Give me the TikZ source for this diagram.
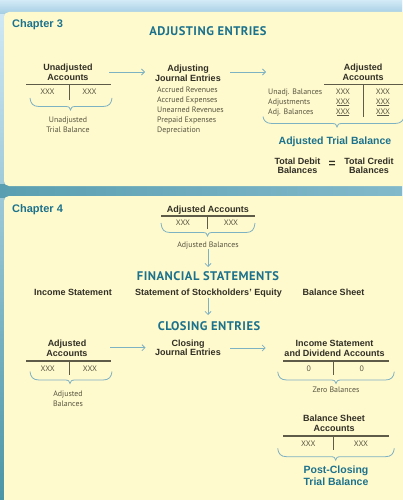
\documentclass[tikz,border=0pt]{standalone}
\usepackage{fontspec}
\setmainfont{PT Sans}
\newfontfamily\labelfont{Liberation Sans}
\newfontfamily\headfont{PT Sans}[LetterSpace=4.0]
\usetikzlibrary{arrows.meta}

\definecolor{hdteal}{HTML}{1B728C}
\definecolor{lbltext}{HTML}{302F24}
\definecolor{bodytext}{HTML}{57563F}
\definecolor{tcol}{HTML}{5E5C48}
\definecolor{flowcol}{HTML}{7DB2C3}
\definecolor{cream}{HTML}{FFF9CE}
\definecolor{skytop}{HTML}{D3EAF7}
\definecolor{skylow}{HTML}{A3CDE2}
\definecolor{deepteal}{HTML}{4A95A6}
\definecolor{bandleft}{HTML}{5A9FB1}
\definecolor{bandright}{HTML}{82B9CA}

% curly brace opening downwards: x-left, x-right, y-top, y-bottom, x-tip
\newcommand\cbrace[5]{%
  \draw[brc] (#1,#3) .. controls ({#1+0.6},{#4-3}) and ({#1+3},#4) .. ({#1+9},#4)
    -- ({#5-5},#4) .. controls ({#5-1.5},#4) and ({#5-0.3},{#4+1}) .. (#5,{#4+3.5})
    .. controls ({#5+0.3},{#4+1}) and ({#5+1.5},#4) .. ({#5+5},#4)
    -- ({#2-9},#4) .. controls ({#2-3},#4) and ({#2-0.6},{#4-3}) .. (#2,#3);}

\tikzset{
  chap/.style={font=\labelfont\bfseries\fontsize{11}{12}\selectfont, text=hdteal, inner sep=0, anchor=north west},
  head/.style={font=\headfont\bfseries\fontsize{12.5}{13}\selectfont, text=hdteal, inner sep=0, anchor=north},
  lbl/.style={font=\labelfont\bfseries\fontsize{9}{9.8}\selectfont, text=lbltext, align=center, inner sep=0, anchor=north},
  small/.style={font=\fontsize{7.9}{10}\selectfont, text=bodytext, inner sep=0, anchor=north},
  tealbig/.style={font=\labelfont\bfseries\fontsize{10.5}{11.7}\selectfont, text=hdteal, align=center, inner sep=0, anchor=north},
  tline/.style={draw=tcol, line width=1.2pt},
  tvert/.style={draw=tcol, line width=0.9pt},
  flow/.style={draw=flowcol, line width=0.8pt, -{Straight Barb[length=3pt,width=6pt]}},
  brc/.style={draw=flowcol, line width=0.8pt},
}

\begin{document}
\begin{tikzpicture}[x=1pt,y=-1pt]
\useasboundingbox (0,0) rectangle (402,500);

% backdrop
\shade[top color=skytop, bottom color=deepteal] (0,0) rectangle (402,500);
\shade[top color=skytop, bottom color=skylow] (0,0) rectangle (402,14);
\shade[left color=bandleft, right color=bandright] (0,184) rectangle (402,197);

% panels
\fill[cream, rounded corners=5pt] (4,12) rectangle (430,186);
\fill[cream, rounded corners=5pt] (4,196) rectangle (430,530);

% ---------- Chapter 3 ----------
\node[chap] (ch3) at (12,19.5) {Chapter 3};
\node[head] (adjhead) at (208,26.5) {ADJUSTING ENTRIES};

% unadjusted accounts
\node[lbl] (ua) at (68,64) {Unadjusted\\Accounts};
\draw[tline] (26,84.3) -- (110.5,84.3);
\draw[tvert] (69,84.3) -- (69,100.5);
\node[small] (ua1) at (47.5,88.5) {XXX};
\node[small] (ua2) at (89.5,88.5) {XXX};
\cbrace{30}{112}{98}{106.5}{70.5}
\node[small, align=center] (utb) at (68,116.7) {Unadjusted\\Trial Balance};

\coordinate (f1s) at (109,72);
\coordinate (f1e) at (145,72);
\draw[flow] (f1s) -- (f1e);

% adjusting journal entries
\node[lbl] (aje) at (188,65) {Adjusting\\Journal Entries};
\node[small, align=left, anchor=north west] (list) at (157,87)
  {Accrued Revenues\\Accrued Expenses\\Unearned Revenues\\Prepaid Expenses\\Depreciation};

\coordinate (f2s) at (230,72);
\coordinate (f2e) at (266,72);
\draw[flow] (f2s) -- (f2e);

% adjusted accounts
\node[lbl] (aa) at (363,64) {Adjusted\\Accounts};
\draw[tline] (324,84.3) -- (404,84.3);
\draw[tvert] (363,84.3) -- (363,117.5);
\node[small, align=left, anchor=north west] (rows) at (268,89.2)
  {Unadj. Balances\\Adjustments\\Adj. Balances};
\node[small] (aa11) at (343,89.2) {XXX};
\node[small] (aa12) at (383,89.2) {XXX};
\node[small] (aa21) at (343,99.2) {XXX};
\node[small] (aa22) at (383,99.2) {XXX};
\node[small] (aa31) at (343,109.2) {XXX};
\node[small] (aa32) at (383,109.2) {XXX};
\draw[tcol, line width=0.6pt] (337,105.3) -- (349,105.3) (377,105.3) -- (389,105.3);
\draw[tcol, line width=1.8pt] (337,115.6) -- (349,115.6) (377,115.6) -- (389,115.6);
\cbrace{263}{404}{116.5}{123.5}{337}

\node[tealbig] (atb) at (335,137) {Adjusted Trial Balance};
\node[lbl] (td) at (297.5,157.3) {Total Debit\\Balances};
\node[lbl, anchor=center, font=\labelfont\bfseries\fontsize{12}{12}\selectfont] (eq) at (332,164) {=};
\node[lbl] (tc) at (369,157.3) {Total Credit\\Balances};

% ---------- Chapter 4 ----------
\node[chap] (ch4) at (12,204) {Chapter 4};

\node[lbl] (adjacc) at (208,206) {Adjusted Accounts};
\draw[tline] (161,216) -- (255,216);
\draw[tvert] (207.5,216) -- (207.5,229);
\node[small] (ac1) at (183,220.2) {XXX};
\node[small] (ac2) at (231,220.2) {XXX};
\cbrace{161}{255}{223}{232.5}{207.5}
\node[small] (adjbal) at (208,241.4) {Adjusted Balances};

\coordinate (d1s) at (208,249);
\coordinate (d1e) at (208,267);
\draw[flow] (d1s) -- (d1e);

\node[head] (finhead) at (208,271.2) {FINANCIAL STATEMENTS};
\node[lbl] (is) at (73,289) {Income Statement};
\node[lbl] (se) at (208.5,289) {Statement of Stockholders’ Equity};
\node[lbl] (bs) at (333.5,289) {Balance Sheet};

\coordinate (d2s) at (208,298);
\coordinate (d2e) at (208,315);
\draw[flow] (d2s) -- (d2e);

\node[head] (closehead) at (209,321.2) {CLOSING ENTRIES};

% adjusted accounts
\node[lbl] (adja2) at (67,340) {Adjusted\\Accounts};
\draw[tline] (26,361) -- (110.5,361);
\draw[tvert] (69,361) -- (69,375);
\node[small] (ab1) at (47.7,365.7) {XXX};
\node[small] (ab2) at (90,365.7) {XXX};
\cbrace{30}{112}{371.5}{380}{70}
\node[small, align=center] (adjb2) at (68,390.4) {Adjusted\\Balances};

\coordinate (f3s) at (110,347.7);
\coordinate (f3e) at (145.5,347.7);
\draw[flow] (f3s) -- (f3e);

\node[lbl] (cje) at (188,339.3) {Closing\\Journal Entries};

\coordinate (f4s) at (230,348);
\coordinate (f4e) at (265.7,348);
\draw[flow] (f4s) -- (f4e);

% income statement and dividend accounts
\node[lbl] (isda) at (334.5,340) {Income Statement\\and Dividend Accounts};
\draw[tline] (283,361) -- (389,361);
\draw[tvert] (333.3,361) -- (333.3,375);
\node[small] (z1) at (308.7,365.4) {0};
\node[small] (z2) at (361.7,365.4) {0};
\cbrace{277.7}{394.3}{371.7}{380}{336}
\node[small] (zb) at (336,387) {Zero Balances};

% balance sheet accounts
\node[lbl] (bsa) at (334,415) {Balance Sheet\\Accounts};
\draw[tline] (283,436) -- (389,436);
\draw[tvert] (333.3,436) -- (333.3,450);
\node[small] (b1) at (308.3,440.4) {XXX};
\node[small] (b2) at (361,440.4) {XXX};
\cbrace{277.7}{394.3}{448.3}{456.7}{335.7}
\node[tealbig] (pctb) at (336,466) {Post-Closing\\Trial Balance};

\end{tikzpicture}
\end{document}
